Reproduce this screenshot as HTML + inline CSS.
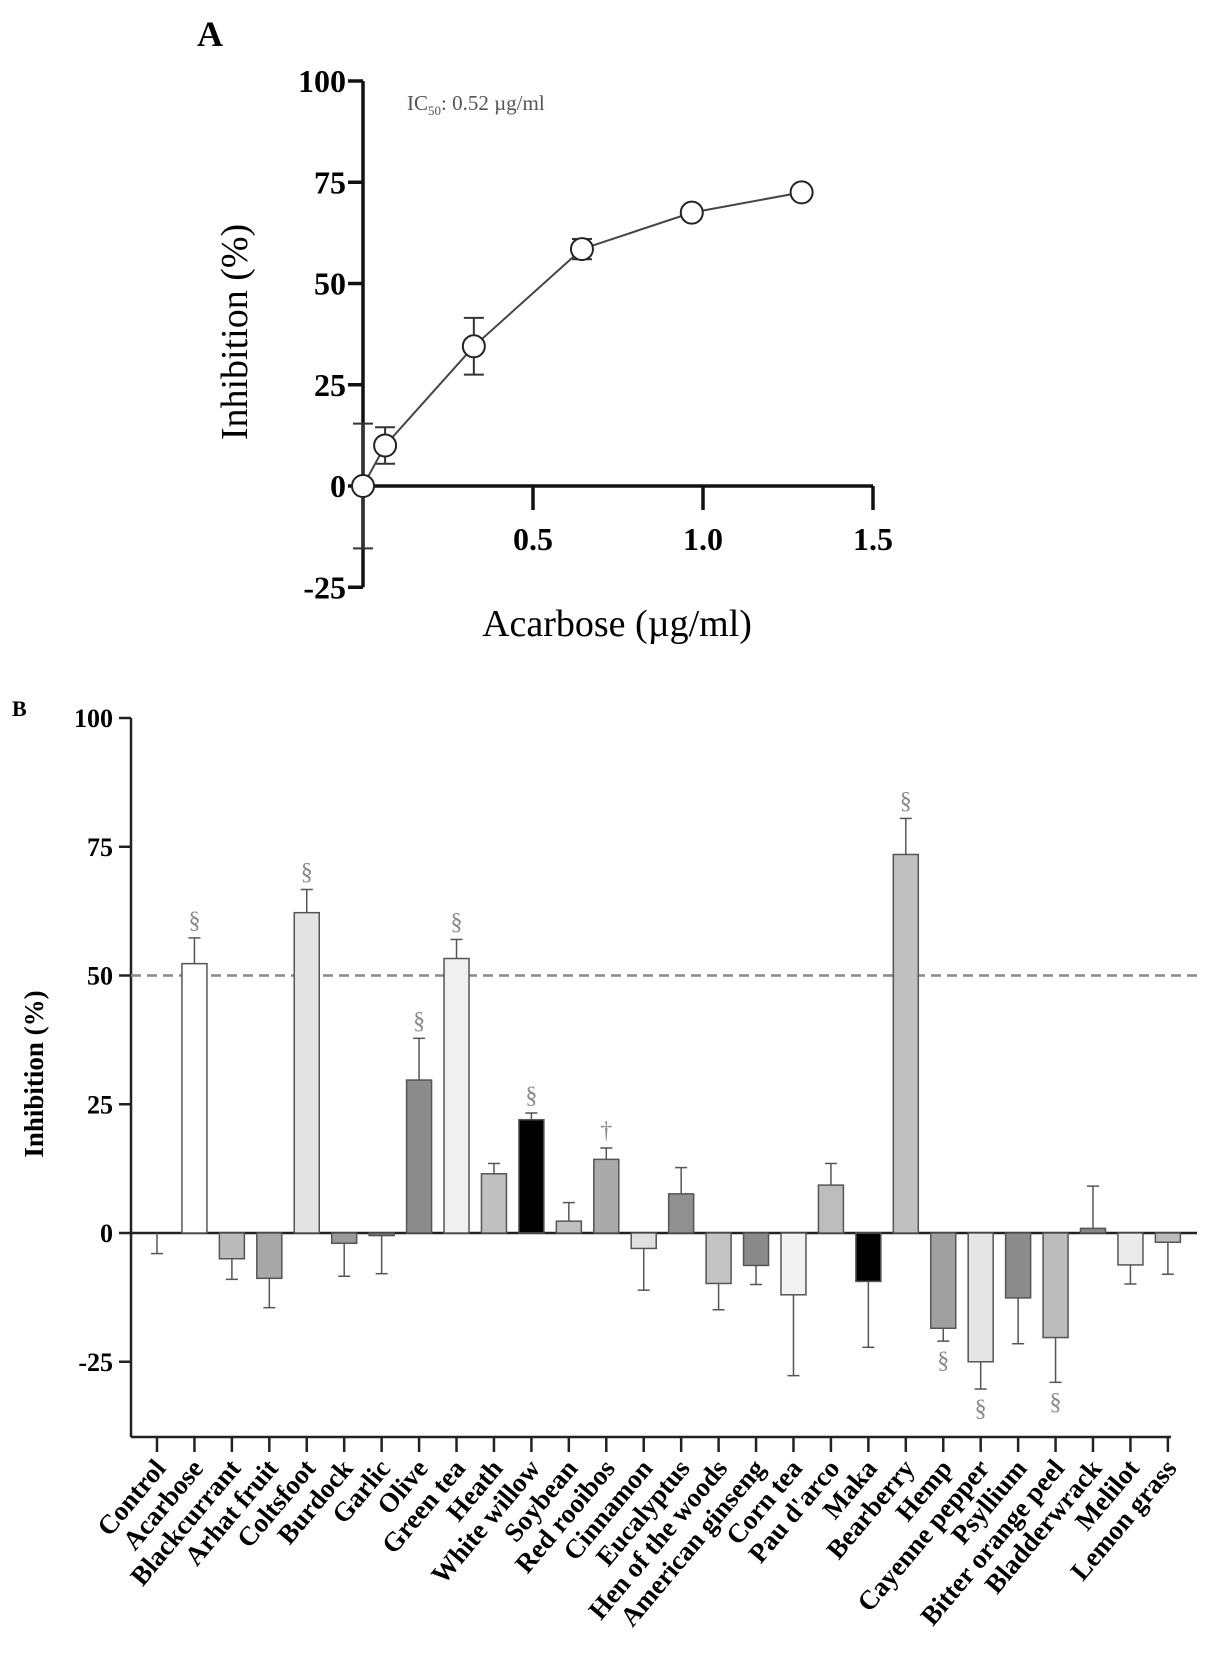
<!DOCTYPE html>
<html><head><meta charset="utf-8"><style>
body{margin:0;background:#fff}
svg{display:block;font-family:"Liberation Serif",serif}
</style></head><body>
<svg id="root" width="1205" height="1671" viewBox="0 0 1205 1671">
<g id="pa"></g>
<g id="pb"></g>
</svg>
<script>
// Panel A data
const aX = [0, 0.065, 0.326, 0.644, 0.967, 1.29];
const aY = [0, 10, 34.5, 58.5, 67.5, 72.5];
const aErr = [15.4, 4.5, 7, 2.5, 0, 0];
const aYTicks = [100, 75, 50, 25, 0, -25];
const aXTicks = [0.5, 1.0, 1.5];
const aXTickLabels = ["0.5", "1.0", "1.5"];

// Panel B data
const cats = ["Control","Acarbose","Blackcurrant","Arhat fruit","Coltsfoot","Burdock","Garlic","Olive","Green tea","Heath","White willow","Soybean","Red rooibos","Cinnamon","Eucalyptus","Hen of the woods","American ginseng","Corn tea","Pau d'arco","Maka","Bearberry","Hemp","Cayenne pepper","Psyllium","Bitter orange peel","Bladderwrack","Melilot","Lemon grass"];
const vals = [0,52.3,-5,-8.8,62.2,-2,-0.5,29.7,53.3,11.5,22,2.3,14.3,-3,7.6,-9.8,-6.3,-12,9.3,-9.4,73.5,-18.5,-25,-12.6,-20.3,0.9,-6.2,-1.8];
const errs = [4,5,4,5.7,4.5,6.4,7.4,8.1,3.7,2,1.3,3.6,2.2,8.1,5.1,5.1,3.7,15.7,4.2,12.8,7,2.5,5.3,8.9,8.7,8.2,3.7,6.2];
const fills = ["#fff","#fff","#bbb","#a8a8a8","#e4e4e4","#999","#777","#8c8c8c","#f0f0f0","#c0c0c0","#000","#c0c0c0","#aaa","#e0e0e0","#909090","#c4c4c4","#8a8a8a","#f2f2f2","#bdbdbd","#000","#c0c0c0","#a0a0a0","#e6e6e6","#8c8c8c","#bcbcbc","#888","#ebebeb","#bbb"];
const marks = ["","§","","","§","","","§","§","","§","","†","","","","","","","","§","§","§","","§","","",""];
const bYTicks = [100, 75, 50, 25, 0, -25];

const NS = "http://www.w3.org/2000/svg";
function mk(parent, tag, attrs, text){
  const e = document.createElementNS(NS, tag);
  for (const k in attrs) e.setAttribute(k, attrs[k]);
  if (text !== undefined) e.textContent = text;
  parent.appendChild(e);
  return e;
}

// ---------- Panel A ----------
const pa = document.getElementById('pa');
const ax = v => 363 + v * 340;
const ay = v => 486 - v * 4.05;
let t;
t = mk(pa,'text',{x:197,y:46,'font-size':36,'font-weight':'bold'},'A');


let l = mk(pa,'line',{x1:ax(0),y1:ay(100),x2:ax(0),y2:ay(-25),stroke:'#111','stroke-width':3.5});


l = mk(pa,'line',{x1:ax(0),y1:ay(0),x2:ax(1.5),y2:ay(0),stroke:'#111','stroke-width':3.5});


aYTicks.forEach(v=>{
  mk(pa,'line',{x1:ax(0)-15,y1:ay(v),x2:ax(0),y2:ay(v),stroke:'#111','stroke-width':3.5});
  t = mk(pa,'text',{x:ax(0)-17,y:ay(v)+11,'font-size':32,'font-weight':'bold','text-anchor':'end'},String(v));
  
  
});
aXTicks.forEach((v,i)=>{
  mk(pa,'line',{x1:ax(v),y1:ay(0),x2:ax(v),y2:ay(0)+24,stroke:'#111','stroke-width':3.5});
  t = mk(pa,'text',{x:ax(v),y:ay(0)+64,'font-size':32,'font-weight':'bold','text-anchor':'middle'},aXTickLabels[i]);
  
  
});
t = mk(pa,'text',{x:0,y:0,'font-size':38,'text-anchor':'middle',transform:'translate(247,332) rotate(-90)'},'Inhibition (%)');


t = mk(pa,'text',{x:617,y:636,'font-size':38,'text-anchor':'middle'},'Acarbose (µg/ml)');


t = mk(pa,'text',{x:407,y:110,'font-size':21,fill:'#555'});


t.innerHTML = 'IC<tspan font-size="13" dy="5">50</tspan><tspan dy="-5">: 0.52 µg/ml</tspan>';
aX.forEach((x,i)=>{
  if(!aErr[i]) return;
  const g = mk(pa,'g',{stroke:'#333','stroke-width':2});
  
  
  const cx=ax(x);
  mk(g,'line',{x1:cx,y1:ay(aY[i]+aErr[i]),x2:cx,y2:ay(aY[i]-aErr[i])});
  mk(g,'line',{x1:cx-10,y1:ay(aY[i]+aErr[i]),x2:cx+10,y2:ay(aY[i]+aErr[i])});
  mk(g,'line',{x1:cx-10,y1:ay(aY[i]-aErr[i]),x2:cx+10,y2:ay(aY[i]-aErr[i])});
});
const pts = aX.map((x,i)=>ax(x)+','+ay(aY[i])).join(' ');
l = mk(pa,'polyline',{points:pts,fill:'none',stroke:'#444','stroke-width':2});


aX.forEach((x,i)=>{
  const c = mk(pa,'circle',{cx:ax(x),cy:ay(aY[i]),r:11,fill:'#fff',stroke:'#222','stroke-width':2});
  
  
});

// ---------- Panel B ----------
const pb = document.getElementById('pb');
const by = v => 1233 - v * 5.15;
const bx = i => 157 + i * 37.44;
const AXX = 131, BOT = 1437;
t = mk(pb,'text',{x:12,y:716,'font-size':22,'font-weight':'bold'},'B');


l = mk(pb,'line',{x1:AXX,y1:by(100),x2:AXX,y2:BOT,stroke:'#222','stroke-width':2.5});


l = mk(pb,'line',{x1:AXX,y1:BOT,x2:1171,y2:BOT,stroke:'#222','stroke-width':2.5});


l = mk(pb,'line',{x1:AXX,y1:by(0),x2:1197,y2:by(0),stroke:'#222','stroke-width':2.5});


l = mk(pb,'line',{x1:AXX,y1:by(50),x2:1197,y2:by(50),stroke:'#888','stroke-width':2.5,'stroke-dasharray':'10 6'});


bYTicks.forEach(v=>{
  mk(pb,'line',{x1:AXX-12,y1:by(v),x2:AXX,y2:by(v),stroke:'#222','stroke-width':2.5});
  t = mk(pb,'text',{x:AXX-18,y:by(v)+9,'font-size':26,'font-weight':'bold','text-anchor':'end'},String(v));
  
  
});
t = mk(pb,'text',{x:0,y:0,'font-size':27,'font-weight':'bold','text-anchor':'middle',transform:'translate(43,1074) rotate(-90)'},'Inhibition (%)');


cats.forEach((c,i)=>{
  const x = bx(i), v = vals[i], e = errs[i];
  const g = mk(pb,'g',{});
  
  
  const top = Math.min(by(v),by(0)), h = Math.abs(by(v)-by(0));
  if (h>0.5) mk(g,'rect',{x:x-12.5,y:top,width:25,height:h,fill:fills[i],stroke:'#555','stroke-width':1.5});
  const ey = v>=0 && !(i===0) ? by(v+e) : by(v-e);
  mk(g,'line',{x1:x,y1:by(v),x2:x,y2:ey,stroke:'#555','stroke-width':1.5});
  mk(g,'line',{x1:x-6,y1:ey,x2:x+6,y2:ey,stroke:'#555','stroke-width':1.5});
  if (marks[i]){
    const below = v<0;
    t = mk(g,'text',{x:x,y:below?ey+27:ey-10,'font-size':24,fill:'#888','text-anchor':'middle'},marks[i]);
    
    
  }
  mk(pb,'line',{x1:x,y1:BOT,x2:x,y2:BOT+15,stroke:'#222','stroke-width':2.5});
  t = mk(pb,'text',{x:0,y:0,'font-size':27,'font-weight':'bold','text-anchor':'end',transform:`translate(${x+10},${BOT+32}) rotate(-50)`},c);
  
  
});
</script>
</body></html>
